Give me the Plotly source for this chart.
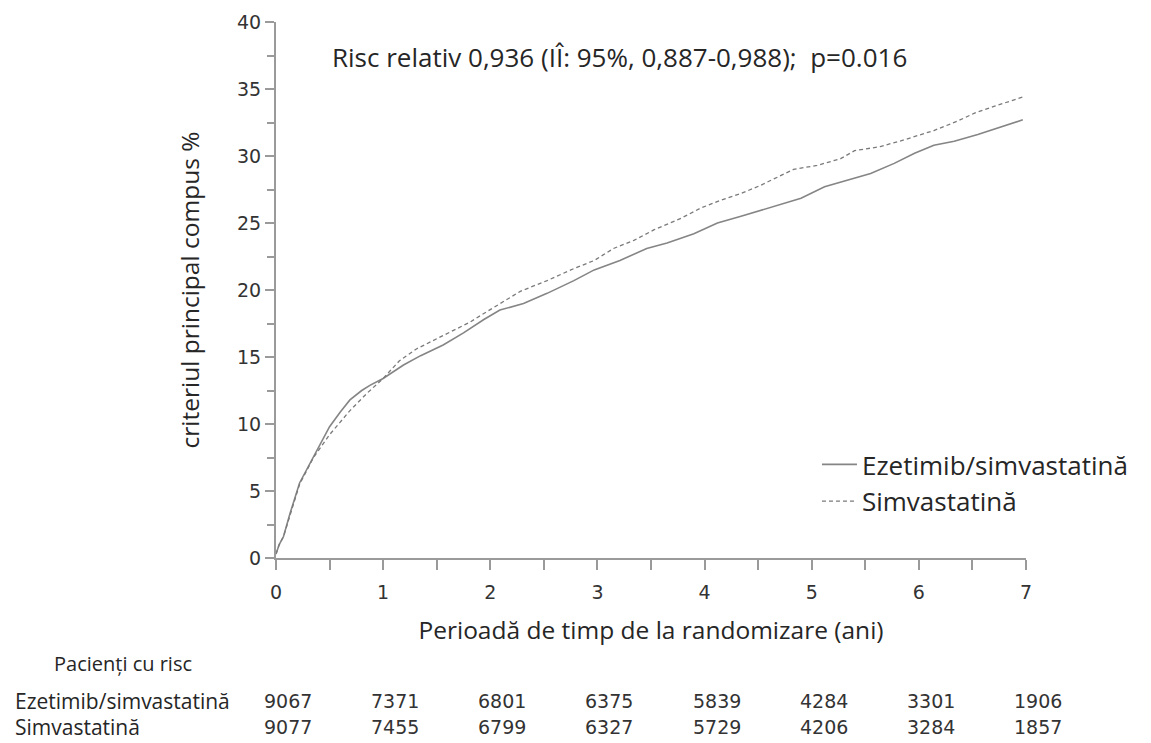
import plotly.graph_objects as go

# ---- data ----
t_eze = [0, 0.03, 0.07, 0.13, 0.22, 0.35, 0.5, 0.6, 0.69, 0.8,
         0.88, 1.0, 1.19, 1.35, 1.56, 1.75, 1.94, 2.09, 2.31, 2.53,
         2.78, 2.97, 3.21, 3.46, 3.65, 3.9, 4.12, 4.34, 4.62, 4.9,
         5.12, 5.33, 5.55, 5.77, 5.96, 6.14, 6.33, 6.55, 6.77, 6.97]
v_eze = [0.3, 1.0, 1.6, 3.3, 5.6, 7.6, 9.8, 10.9, 11.8, 12.5,
         12.9, 13.4, 14.4, 15.1, 15.9, 16.8, 17.8, 18.5, 19.0, 19.75,
         20.7, 21.5, 22.2, 23.1, 23.5, 24.2, 25.0, 25.5, 26.2, 26.85,
         27.7, 28.2, 28.7, 29.45, 30.2, 30.8, 31.1, 31.6, 32.2, 32.7]

t_sim = [0, 0.03, 0.07, 0.13, 0.22, 0.35, 0.5, 0.69, 0.85, 1.0,
         1.15, 1.31, 1.56, 1.81, 1.91, 2.09, 2.28, 2.53, 2.78, 2.97,
         3.15, 3.34, 3.53, 3.78, 3.96, 4.15, 4.34, 4.52, 4.62, 4.83,
         5.05, 5.27, 5.4, 5.64, 5.86, 6.14, 6.36, 6.52, 6.7, 6.97]
v_sim = [0.3, 1.0, 1.6, 3.2, 5.5, 7.5, 9.2, 11.0, 12.3, 13.4,
         14.7, 15.6, 16.6, 17.6, 18.1, 19.0, 19.9, 20.7, 21.6, 22.2,
         23.1, 23.7, 24.5, 25.35, 26.1, 26.7, 27.2, 27.8, 28.2, 29.0,
         29.3, 29.8, 30.4, 30.7, 31.2, 31.9, 32.6, 33.2, 33.7, 34.4]

risk_years = [0, 1, 2, 3, 4, 5, 6, 7]
risk_eze = [9067, 7371, 6801, 6375, 5839, 4284, 3301, 1906]
risk_sim = [9077, 7455, 6799, 6327, 5729, 4206, 3284, 1857]

name_eze = "Ezetimib/simvastatină"
name_sim = "Simvastatină"
x_title = "Perioadă de timp de la randomizare (ani)"
y_title = "criteriul principal compus %"
note = "Risc relativ 0,936 (IÎ: 95%, 0,887-0,988);  p=0.016"
risk_header = "Pacienți cu risc"

TXT = "#262626"
AX = "#9a9a9a"
FONT = "Open Sans"
NUMFONT = "DejaVu Sans"

fig = go.Figure()
fig.add_trace(go.Scatter(x=t_eze, y=v_eze, mode="lines", name=name_eze,
                         line=dict(color="#858585", width=1.6)))
fig.add_trace(go.Scatter(x=t_sim, y=v_sim, mode="lines", name=name_sim,
                         line=dict(color="#7a7a7a", width=1.3, dash="4px,3px")))

ROW1, ROW2 = -0.266, -0.316

ann = []
ann.append(dict(text=note, xref="paper", yref="paper", x=0.072, y=0.935,
                xanchor="left", yanchor="middle", showarrow=False,
                font=dict(family=FONT, size=26, color=TXT)))
ann.append(dict(text=risk_header, xref="paper", yref="paper", x=-0.2987, y=-0.196,
                xanchor="left", yanchor="middle", showarrow=False,
                font=dict(family=FONT, size=20, color=TXT)))
ann.append(dict(text=name_eze, xref="paper", yref="paper", x=-0.3507, y=ROW1,
                xanchor="left", yanchor="middle", showarrow=False,
                font=dict(family=FONT, size=21, color=TXT)))
ann.append(dict(text=name_sim, xref="paper", yref="paper", x=-0.3507, y=ROW2,
                xanchor="left", yanchor="middle", showarrow=False,
                font=dict(family=FONT, size=21, color=TXT)))
for yr, a, b in zip(risk_years, risk_eze, risk_sim):
    ann.append(dict(text=str(a), xref="x", yref="paper", x=yr, xshift=12, y=ROW1,
                    xanchor="center", yanchor="middle", showarrow=False,
                    font=dict(family=NUMFONT, size=19, color="#333333")))
    ann.append(dict(text=str(b), xref="x", yref="paper", x=yr, xshift=12, y=ROW2,
                    xanchor="center", yanchor="middle", showarrow=False,
                    font=dict(family=NUMFONT, size=19, color="#333333")))

fig.update_layout(
    width=1143, height=735,
    margin=dict(l=268, r=125, t=14, b=185, autoexpand=False),
    paper_bgcolor="white", plot_bgcolor="white",
    showlegend=True,
    legend=dict(x=0.7213, y=0.14, xanchor="left", yanchor="middle",
                bgcolor="rgba(0,0,0,0)", itemwidth=35, tracegroupgap=0,
                font=dict(family=FONT, size=26, color=TXT)),
    annotations=ann,
    xaxis=dict(range=[0, 7], tickmode="array", tickvals=risk_years,
               showline=True, linecolor=AX, linewidth=2,
               ticks="outside", ticklen=10, tickwidth=1.5, tickcolor=AX,
               minor=dict(dtick=0.5, ticks="outside", ticklen=10, tickwidth=1.5, tickcolor=AX),
               showgrid=False, zeroline=False, ticklabelstandoff=6,
               tickfont=dict(family=NUMFONT, size=19, color="#333333"),
               title=dict(text=x_title, standoff=20,
                          font=dict(family=FONT, size=24.5, color=TXT))),
    yaxis=dict(range=[0, 40], dtick=5,
               showline=True, linecolor=AX, linewidth=2,
               ticks="outside", ticklen=9, tickwidth=1.5, tickcolor=AX,
               minor=dict(dtick=2.5, ticks="outside", ticklen=7, tickwidth=1.5, tickcolor=AX),
               showgrid=False, zeroline=False,
               tickfont=dict(family=NUMFONT, size=19, color="#333333"),
               title=dict(text=y_title, standoff=30,
                          font=dict(family=FONT, size=24.5, color=TXT))),
)

fig.write_html("out.html")
